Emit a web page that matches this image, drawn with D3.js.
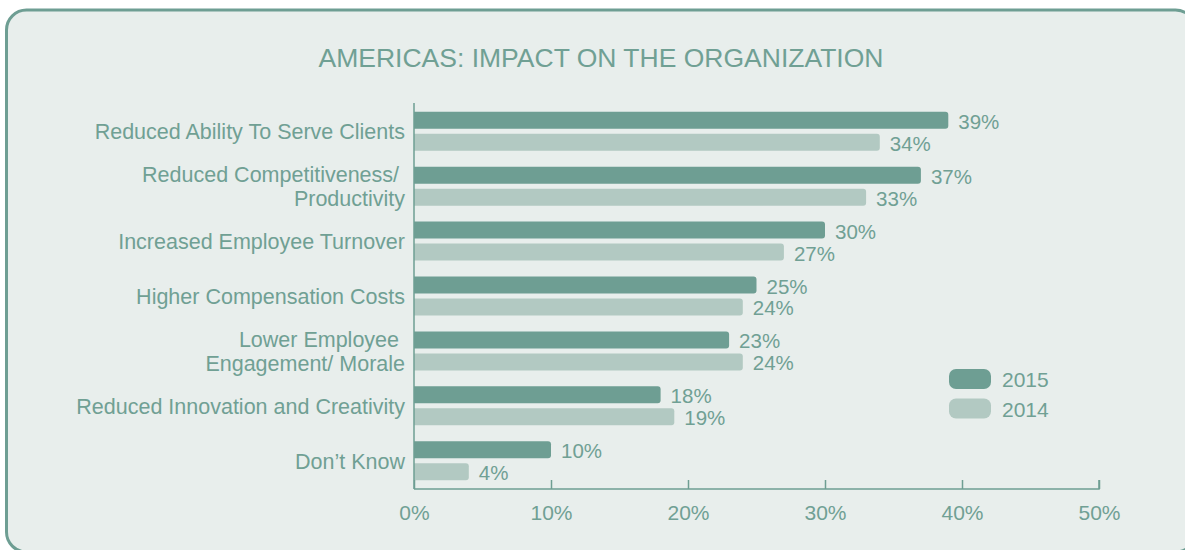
<!DOCTYPE html>
<html>
<head>
<meta charset="utf-8">
<script src="https://cdn.jsdelivr.net/npm/d3@7"></script>
<style>
  body { margin: 0; background: #fff; }
  text { font-family: "Liberation Sans", Arial, sans-serif; }
</style>
</head>
<body>
<svg id="chart" width="1185" height="550"></svg>
<script>
// data
const categories = [
  ['Reduced Ability To Serve Clients'],
  ['Reduced Competitiveness/ ', 'Productivity'],
  ['Increased Employee Turnover'],
  ['Higher Compensation Costs'],
  ['Lower Employee ', 'Engagement/ Morale'],
  ['Reduced Innovation and Creativity'],
  ['Don\u2019t Know']
];
const values2015 = [39, 37, 30, 25, 23, 18, 10];
const values2014 = [34, 33, 27, 24, 24, 19, 4];
const seriesNames = ['2015', '2014'];
const tickValues = [0, 10, 20, 30, 40, 50];

const dark = '#6E9E93';
const light = '#B2C9C2';
const textColor = '#70A094';

const svg = d3.select('#chart');

// panel (right and bottom edges run off the picture)
svg.append('rect')
  .attr('x', 6.5)
  .attr('y', 10)
  .attr('width', 1189)
  .attr('height', 542)
  .attr('rx', 20)
  .attr('fill', '#E8EEEC')
  .attr('stroke', dark)
  .attr('stroke-width', 3);

svg.append('text')
  .attr('x', 601)
  .attr('y', 67)
  .attr('text-anchor', 'middle')
  .attr('font-size', '26.5px')
  .attr('fill', textColor)
  .text('AMERICAS: IMPACT ON THE ORGANIZATION');

const x = d3.scaleLinear().domain([0, 50]).range([414, 1099]);
const y = d3.scaleBand()
  .domain(d3.range(categories.length))
  .range([103, 489])
  .paddingInner(0.29)
  .paddingOuter(0.16);

const sub = d3.scaleBand().domain(seriesNames).range([0, y.bandwidth()]).paddingInner(0.227);

const chart = svg.append('g');

const drawSeries = (vals, name, color) => {
  chart.selectAll('.bar' + name)
    .data(vals)
    .join('path')
    .attr('class', 'bar' + name)
    .attr('fill', color)
    .attr('d', (d, i) => {
      const x0 = x(0), x1 = x(d), y0 = y(i) + sub(name), h = sub.bandwidth(), r = 3;
      return `M${x0},${y0}H${x1 - r}Q${x1},${y0} ${x1},${y0 + r}V${y0 + h - r}Q${x1},${y0 + h} ${x1 - r},${y0 + h}H${x0}Z`;
    });
  chart.selectAll('.val' + name)
    .data(vals)
    .join('text')
    .attr('class', 'val' + name)
    .attr('x', d => x(d) + 10)
    .attr('y', (d, i) => y(i) + sub(name) + sub.bandwidth() / 2 + 8.5)
    .attr('font-size', '20.5px')
    .attr('fill', textColor)
    .text(d => d + '%');
};

drawSeries(values2015, '2015', dark);
drawSeries(values2014, '2014', light);

// category labels
const labels = chart.selectAll('.cat')
  .data(categories)
  .join('text')
  .attr('class', 'cat')
  .attr('text-anchor', 'end')
  .attr('font-size', '21.5px')
  .attr('fill', textColor)
  .style('white-space', 'pre');
labels.each(function (lines, i) {
  const t = d3.select(this);
  const cy = y(i) + y.bandwidth() / 2;
  const lh = 24;
  lines.forEach((line, k) => {
    t.append('tspan')
      .attr('x', 405)
      .attr('y', cy + 8 + (k - (lines.length - 1) / 2) * lh)
      .text(line);
  });
});

// axes
const axis = d3.axisBottom(x)
  .tickValues(tickValues)
  .tickSize(-9)
  .tickPadding(16)
  .tickFormat(d => d + '%');
const ax = svg.append('g')
  .attr('transform', 'translate(0,489)')
  .call(axis);
ax.select('.domain').attr('stroke', dark).attr('stroke-width', 1.5).attr('d', `M${x(0)},0H${x(50)}V-9`);
ax.selectAll('.tick line').attr('stroke', dark).attr('stroke-width', 1.5);
ax.selectAll('.tick text')
  .attr('font-size', '21px')
  .attr('fill', textColor)
  .attr('font-family', '"Liberation Sans", Arial, sans-serif');

svg.append('line')
  .attr('x1', x(0))
  .attr('x2', x(0))
  .attr('y1', 103)
  .attr('y2', 489)
  .attr('stroke', dark)
  .attr('stroke-width', 1.5);

// legend
const legend = svg.append('g').attr('transform', 'translate(949,369)');
seriesNames.forEach((name, i) => {
  legend.append('rect')
    .attr('x', 0)
    .attr('y', i * 29.5)
    .attr('width', 42)
    .attr('height', 20)
    .attr('rx', 7)
    .attr('fill', i === 0 ? dark : light);
  legend.append('text')
    .attr('x', 53)
    .attr('y', i * 29.5 + 18)
    .attr('font-size', '21px')
    .attr('fill', textColor)
    .text(name);
});
</script>
</body>
</html>
